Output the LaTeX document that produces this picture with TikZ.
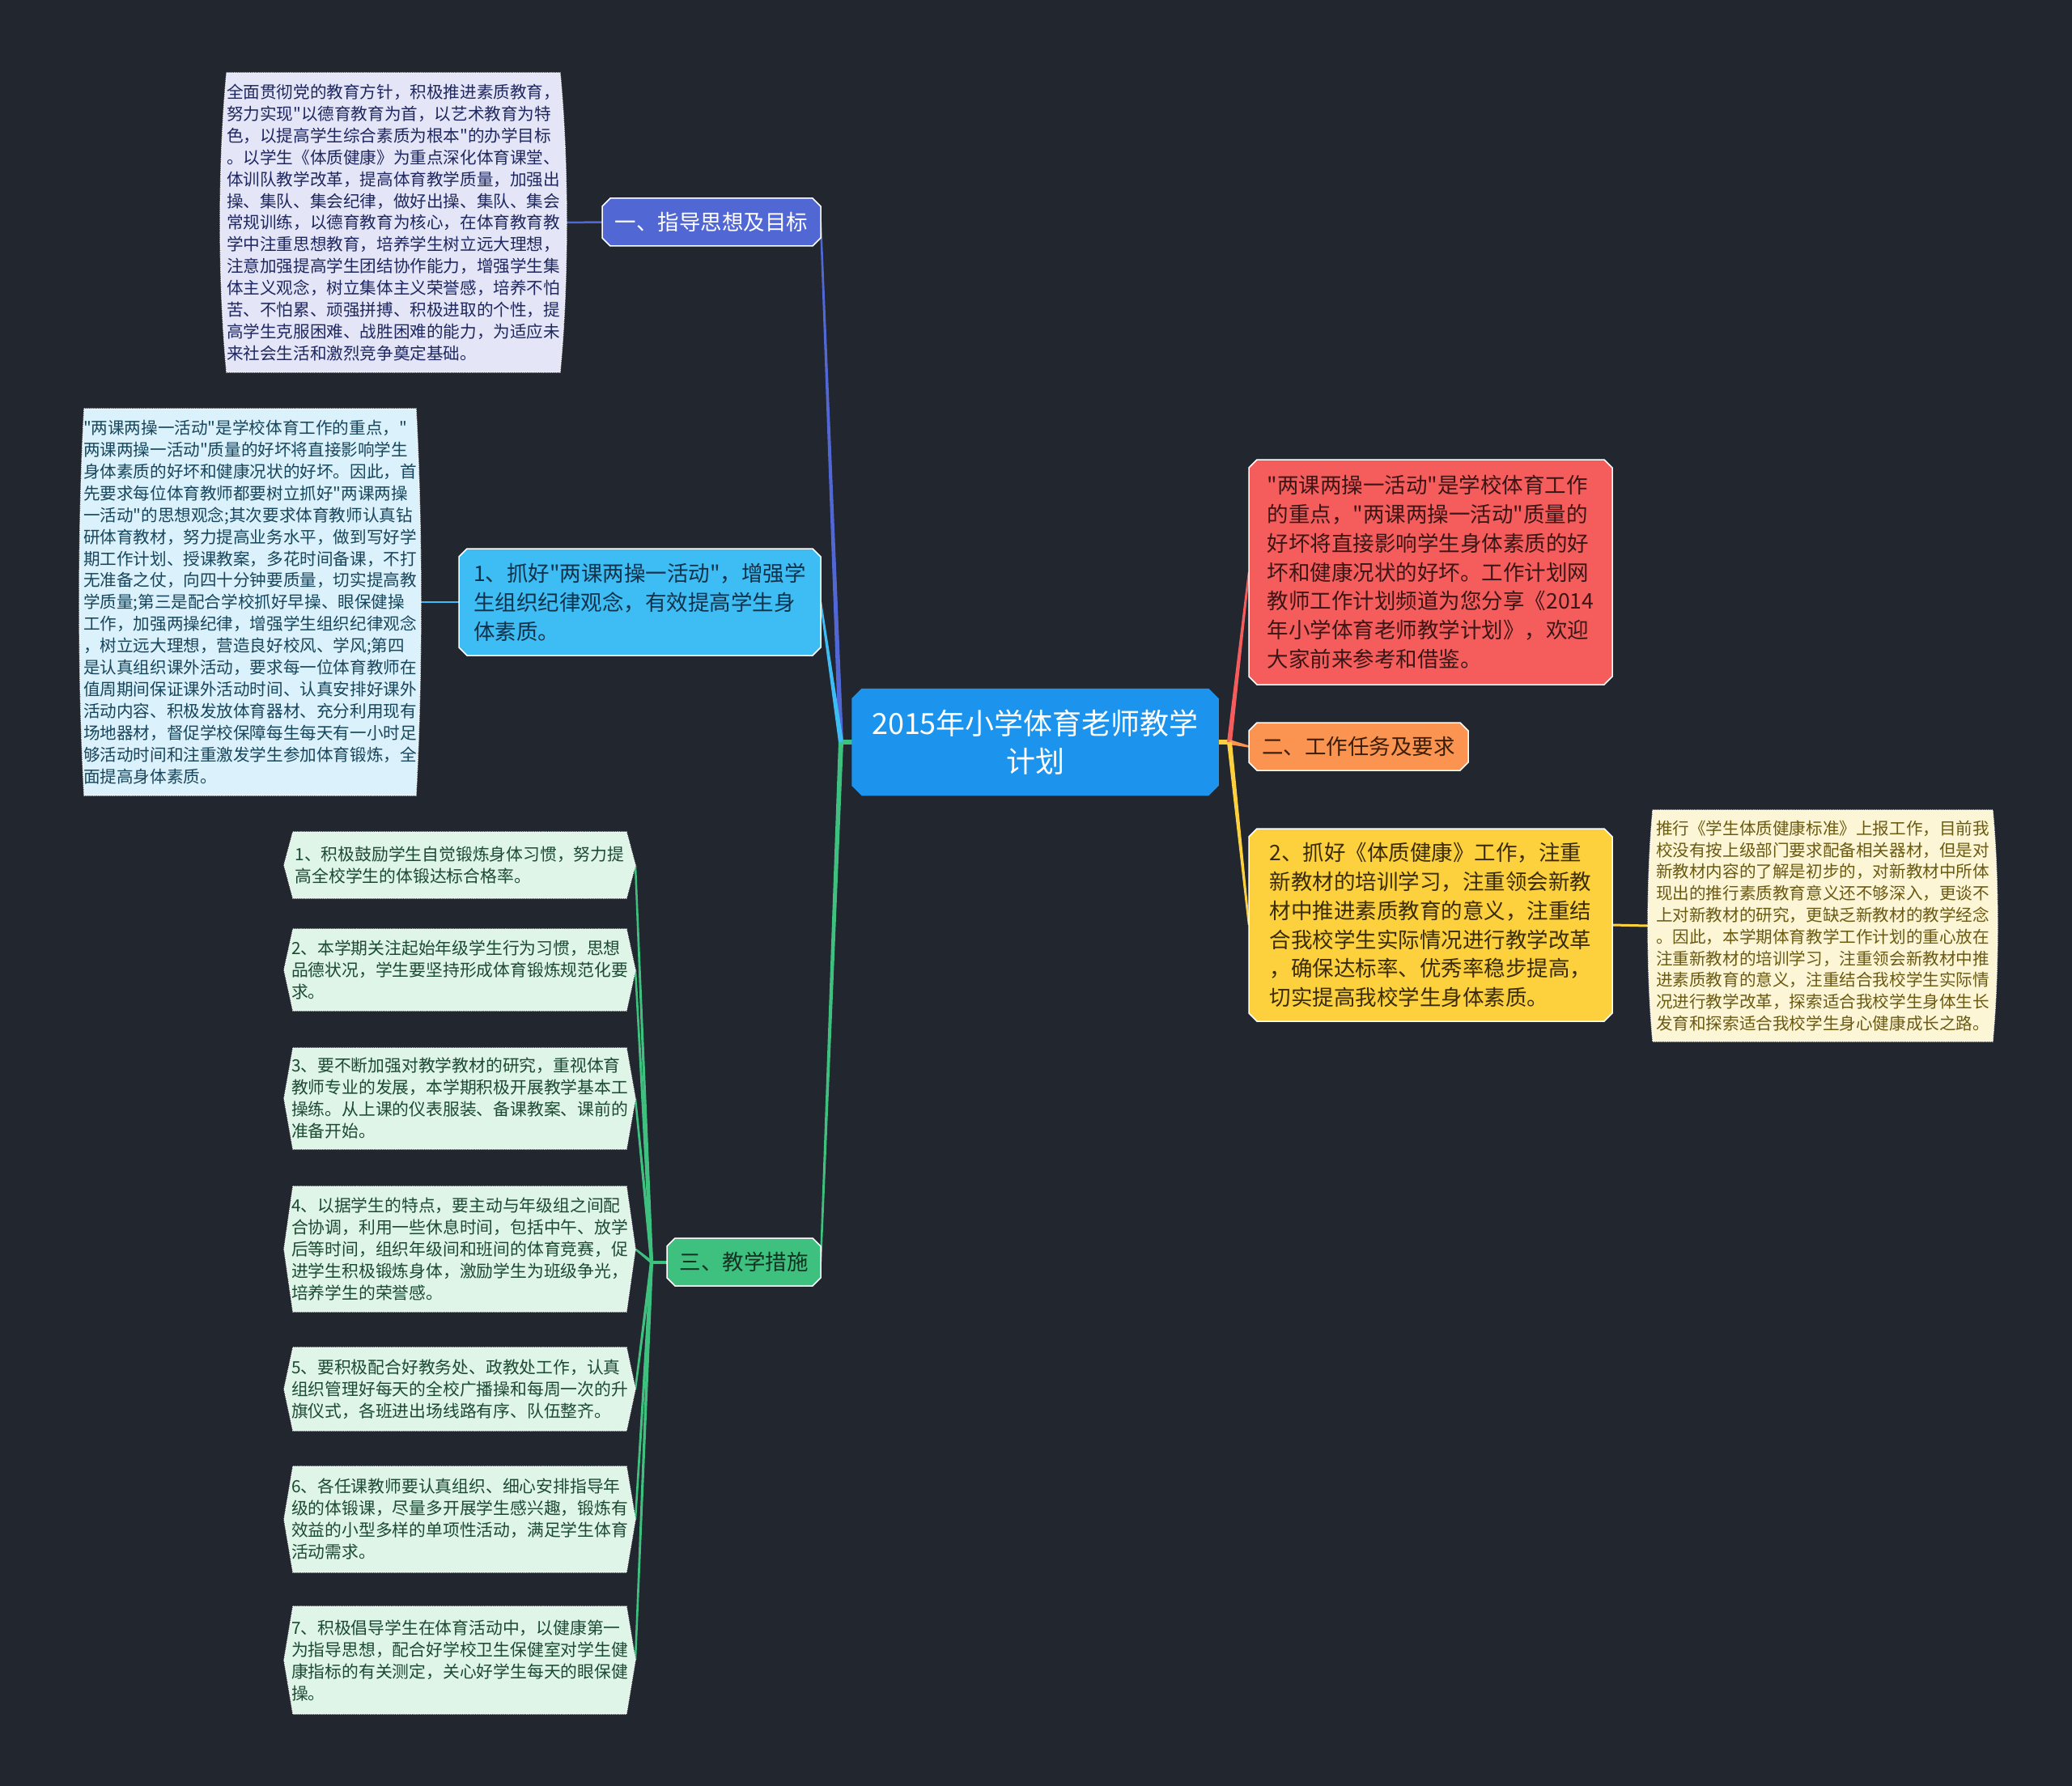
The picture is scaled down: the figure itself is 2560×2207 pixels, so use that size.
\documentclass[tikz,border=0pt]{standalone}
\usepackage{fontspec}
\setmainfont{Noto Sans CJK SC}[Ligatures=TeXOff]
\usetikzlibrary{calc}
\pgfdeclarelayer{bg}
\pgfsetlayers{bg,main}
\definecolor{bgc}{HTML}{22262F}
\definecolor{croot}{HTML}{1C93EC}
\definecolor{cindigo}{HTML}{5167D4}
\definecolor{clblue}{HTML}{3DBDF4}
\definecolor{cgreen}{HTML}{3EC07F}
\definecolor{corange}{HTML}{FA9450}
\definecolor{cred}{HTML}{F55D5D}
\definecolor{cyellow}{HTML}{FDD13D}
\definecolor{clav}{HTML}{E4E6F7}
\definecolor{ccyan}{HTML}{DBF1FB}
\definecolor{cmint}{HTML}{DEF5E8}
\definecolor{ccream}{HTML}{FDF6D6}
\definecolor{tlav}{HTML}{1F2760}
\definecolor{tcyan}{HTML}{17465C}
\definecolor{tmint}{HTML}{1D4A33}
\definecolor{tcream}{HTML}{6A5A12}
\definecolor{tred}{HTML}{3B1616}
\definecolor{tyel}{HTML}{3A2C08}
\definecolor{tlb}{HTML}{10324A}
\definecolor{tgr}{HTML}{123322}
\definecolor{tor}{HTML}{3A1E0A}

\newcommand\taper[5]{%
  \fill[#1] ($(#2)!#4!90:(#3)$) -- ($(#3)!#5!-90:(#2)$) -- ($(#3)!#5!90:(#2)$) -- ($(#2)!#4!-90:(#3)$) -- cycle;}
\newcommand\chamf[4]{%
  \path[fill=#2,draw=#4,line width=1.5pt] ($(#1.north west)+(#3,0)$) -- ($(#1.north east)+(-#3,0)$) -- ($(#1.north east)+(0,#3)$) -- ($(#1.south east)+(0,-#3)$) -- ($(#1.south east)+(-#3,0)$) -- ($(#1.south west)+(#3,0)$) -- ($(#1.south west)+(0,-#3)$) -- ($(#1.north west)+(0,#3)$) -- cycle;}
\newcommand\bowbox[3]{%
  \path[fill=#2,draw=white,densely dotted,line width=1.3pt]
   ($(#1.north west)+(#3,0)$) -- ($(#1.north east)+(-#3,0)$)
   .. controls ($(#1.north east)!0.3!(#1.south east)+(#3/3,0)$) and ($(#1.north east)!0.7!(#1.south east)+(#3/3,0)$) .. ($(#1.south east)+(-#3,0)$)
   -- ($(#1.south west)+(#3,0)$)
   .. controls ($(#1.south west)!0.3!(#1.north west)+(-#3/3,0)$) and ($(#1.south west)!0.7!(#1.north west)+(-#3/3,0)$) .. ($(#1.north west)+(#3,0)$) -- cycle;}
\newcommand\hexbox[3]{%
  \path[fill=#2,draw=white,densely dotted,line width=1.3pt]
   ($(#1.north west)+(#3,0)$) -- ($(#1.north east)+(-#3,0)$) -- (#1.east) -- ($(#1.south east)+(-#3,0)$) -- ($(#1.south west)+(#3,0)$) -- (#1.west) -- cycle;}

\tikzset{
  every node/.style={inner sep=0pt, outer sep=0pt},
  rootnode/.style={minimum width=452pt, minimum height=131pt, align=center, text=white, font=\fontsize{36}{47}\selectfont},
  branch/.style={minimum height=59pt, align=center, font=\fontsize{26.5}{36}\selectfont},
  bigbox/.style={align=left, font=\fontsize{26.5}{35.8}\selectfont},
  detail/.style={align=left, font=\fontsize{20.6}{26.9}\selectfont},
  itembox/.style={minimum width=434pt, align=left, text=tmint, font=\fontsize{20.8}{27}\selectfont},
}

\begin{document}
\begin{tikzpicture}[x=1pt,y=-1pt]
\useasboundingbox (0,0) rectangle (2560,2207);

\node[rootnode] (root) at (1279,917) {2015年小学体育老师教学\\计划};

\node[branch, minimum width=270pt, text=white] (n1) at (879,274.5) {一、指导思想及目标};
\node[bigbox, minimum width=447pt, minimum height=132pt, text=tlb] (n11) at (790.5,744) {1、抓好"两课两操一活动"，增强学\\生组织纪律观念，有效提高学生身\\体素质。};
\node[branch, minimum width=190pt, text=tgr] (n3) at (919,1559.5) {三、教学措施};

\node[bigbox, minimum width=449pt, minimum height=278pt, text=tred] (r1) at (1767.5,707) {"两课两操一活动"是学校体育工作\\的重点，"两课两操一活动"质量的\\好坏将直接影响学生身体素质的好\\坏和健康况状的好坏。工作计划网\\教师工作计划频道为您分享《2014\\年小学体育老师教学计划》，欢迎\\大家前来参考和借鉴。};
\node[branch, minimum width=271pt, text=tor] (n2) at (1678.5,922.5) {二、工作任务及要求};
\node[bigbox, minimum width=449pt, minimum height=238pt, text=tyel] (y1) at (1767.5,1143) {2、抓好《体质健康》工作，注重\\新教材的培训学习，注重领会新教\\材中推进素质教育的意义，注重结\\合我校学生实际情况进行教学改革\\，确保达标率、优秀率稳步提高，\\切实提高我校学生身体素质。};

\node[detail, minimum width=432pt, minimum height=286pt, text=tcream, font=\fontsize{20.6}{26.8}\selectfont] (c1) at (2252,1144) {推行《学生体质健康标准》上报工作，目前我\\校没有按上级部门要求配备相关器材，但是对\\新教材内容的了解是初步的，对新教材中所体\\现出的推行素质教育意义还不够深入，更谈不\\上对新教材的研究，更缺乏新教材的教学经念\\。因此，本学期体育教学工作计划的重心放在\\注重新教材的培训学习，注重领会新教材中推\\进素质教育的意义，注重结合我校学生实际情\\况进行教学改革，探索适合我校学生身体生长\\发育和探索适合我校学生身心健康成长之路。};

\node[detail, minimum width=428pt, minimum height=370pt, text=tlav] (d1) at (486,275) {全面贯彻党的教育方针，积极推进素质教育，\\努力实现"以德育教育为首，以艺术教育为特\\色，以提高学生综合素质为根本"的办学目标\\。以学生《体质健康》为重点深化体育课堂、\\体训队教学改革，提高体育教学质量，加强出\\操、集队、集会纪律，做好出操、集队、集会\\常规训练，以德育教育为核心，在体育教育教\\学中注重思想教育，培养学生树立远大理想，\\注意加强提高学生团结协作能力，增强学生集\\体主义观念，树立集体主义荣誉感，培养不怕\\苦、不怕累、顽强拼搏、积极进取的个性，提\\高学生克服困难、战胜困难的能力，为适应未\\来社会生活和激烈竞争奠定基础。};

\node[detail, minimum width=422pt, minimum height=478pt, text=tcyan] (d2) at (309,744) {"两课两操一活动"是学校体育工作的重点，"\\两课两操一活动"质量的好坏将直接影响学生\\身体素质的好坏和健康况状的好坏。因此，首\\先要求每位体育教师都要树立抓好"两课两操\\一活动"的思想观念;其次要求体育教师认真钻\\研体育教材，努力提高业务水平，做到写好学\\期工作计划、授课教案，多花时间备课，不打\\无准备之仗，向四十分钟要质量，切实提高教\\学质量;第三是配合学校抓好早操、眼保健操\\工作，加强两操纪律，增强学生组织纪律观念\\，树立远大理想，营造良好校风、学风;第四\\是认真组织课外活动，要求每一位体育教师在\\值周期间保证课外活动时间、认真安排好课外\\活动内容、积极发放体育器材、充分利用现有\\场地器材，督促学校保障每生每天有一小时足\\够活动时间和注重激发学生参加体育锻炼，全\\面提高身体素质。};

\node[itembox, minimum height=82pt] (g1) at (568,1069) {1、积极鼓励学生自觉锻炼身体习惯，努力提\\高全校学生的体锻达标合格率。};
\node[itembox, minimum height=101pt] (g2) at (568,1198.5) {2、本学期关注起始年级学生行为习惯，思想\\品德状况，学生要坚持形成体育锻炼规范化要\\求。};
\node[itembox, minimum height=125pt] (g3) at (568,1357.5) {3、要不断加强对教学教材的研究，重视体育\\教师专业的发展，本学期积极开展教学基本工\\操练。从上课的仪表服装、备课教案、课前的\\准备开始。};
\node[itembox, minimum height=155pt] (g4) at (568,1543.5) {4、以据学生的特点，要主动与年级组之间配\\合协调，利用一些休息时间，包括中午、放学\\后等时间，组织年级间和班间的体育竞赛，促\\进学生积极锻炼身体，激励学生为班级争光，\\培养学生的荣誉感。};
\node[itembox, minimum height=103pt] (g5) at (568,1716.5) {5、要积极配合好教务处、政教处工作，认真\\组织管理好每天的全校广播操和每周一次的升\\旗仪式，各班进出场线路有序、队伍整齐。};
\node[itembox, minimum height=131pt] (g6) at (568,1877.5) {6、各任课教师要认真组织、细心安排指导年\\级的体锻课，尽量多开展学生感兴趣，锻炼有\\效益的小型多样的单项性活动，满足学生体育\\活动需求。};
\node[itembox, minimum height=133pt] (g7) at (568,2051.5) {7、积极倡导学生在体育活动中，以健康第一\\为指导思想，配合好学校卫生保健室对学生健\\康指标的有关测定，关心好学生每天的眼保健\\操。};

\coordinate (rl) at ($(root.west)+(-14,0)$);
\coordinate (rr) at ($(root.east)+(14,0)$);
\coordinate (gl) at ($(n3.west)+(-19,0)$);

\begin{pgfonlayer}{bg}
\fill[bgc] (0,0) rectangle (2560,2207);
% root connectors
\draw[cgreen, line width=6pt] (root.west) -- (rl);
\taper{cindigo}{rl}{n1.east}{3pt}{1.2pt}
\taper{clblue}{rl}{n11.east}{3pt}{1.2pt}
\taper{cgreen}{rl}{n3.east}{3pt}{1.2pt}
\draw[cyellow, line width=6pt] (root.east) -- (rr);
\taper{cred}{rr}{r1.west}{3pt}{1.2pt}
\taper{corange}{rr}{n2.west}{3pt}{1.2pt}
\taper{cyellow}{rr}{y1.west}{3pt}{1.2pt}
% detail connectors
\draw[cindigo, line width=2.5pt] (n1.west) -- (d1.east);
\draw[clblue, line width=2.5pt] (n11.west) -- (d2.east);
\draw[cyellow, line width=3pt] (y1.east) -- (c1.west);
\draw[cgreen, line width=4pt] (n3.west) -- (gl);
\foreach \g in {g1,g2,g3,g4,g5,g6,g7} {\taper{cgreen}{gl}{\g.east}{2pt}{1.2pt}}
% shapes
\chamf{root}{croot}{12}{croot}
\chamf{n1}{cindigo}{10}{white}
\chamf{n11}{clblue}{10}{white}
\chamf{n3}{cgreen}{10}{white}
\chamf{r1}{cred}{10}{white}
\chamf{n2}{corange}{10}{white}
\chamf{y1}{cyellow}{10}{white}
\bowbox{d1}{clav}{8}
\bowbox{d2}{ccyan}{6}
\bowbox{c1}{ccream}{6}
\foreach \g in {g1,g2,g3,g4,g5,g6,g7} {\hexbox{\g}{cmint}{11}}
\end{pgfonlayer}
\end{tikzpicture}
\end{document}
